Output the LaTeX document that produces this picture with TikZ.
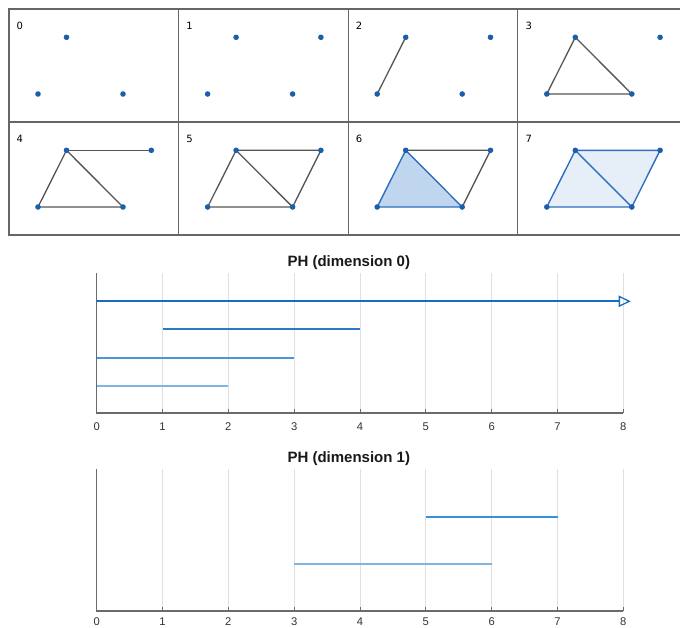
\documentclass[tikz,border=0pt]{standalone}
\usepackage{fontspec}
\setmainfont{Liberation Sans}
\newfontfamily\dvs{DejaVu Sans}
\definecolor{framec}{HTML}{666666}
\definecolor{edgec}{HTML}{555555}
\definecolor{dotc}{HTML}{1B5EAB}
\definecolor{bluee}{HTML}{2F6FBF}
\definecolor{fillA}{HTML}{C0D6EE}
\definecolor{fillB}{HTML}{E6EEF8}
\definecolor{gridc}{HTML}{E0E0E0}
\definecolor{axisc}{HTML}{6A6A6A}
\definecolor{barA}{HTML}{1A6CC0}
\definecolor{barB}{HTML}{2A7AC8}
\definecolor{barC}{HTML}{4F95D3}
\definecolor{barD}{HTML}{7DB6E3}
\definecolor{barE}{HTML}{3492DC}
\begin{document}
\begin{tikzpicture}[x=1pt,y=-1pt,
  cellframe/.style={draw=framec, line width=1.1pt},
  edgeg/.style={draw=edgec, line width=1.3pt, line join=round},
  edgeb/.style={draw=bluee, line width=1.4pt, line join=round},
  vdot/.style={circle, fill=dotc, inner sep=0pt, minimum size=5.6pt},
  cellno/.style={anchor=west, font=\dvs\fontsize{10}{10}\selectfont, text=black, inner sep=0pt},
  gridl/.style={draw=gridc, line width=0.8pt},
  axisl/.style={draw=axisc, line width=1.5pt},
  tickl/.style={anchor=base, font=\fontsize{11.2}{11.2}\selectfont, text=black!80, inner sep=0pt},
  titl/.style={font=\bfseries\fontsize{15}{15}\selectfont, text=black!90, inner sep=0pt},
]
\useasboundingbox (0,0) rectangle (680,627);
% ---------------- grid of filtration steps
\foreach \c in {0,...,3}{
  \foreach \r in {0,1}{
    \draw[cellframe] ({9+169.6*\c},{9+113*\r}) rectangle ({9+169.6*(\c+1)},{9+113*(\r+1)});
  }
}
\newcommand{\cellpts}[3]{% name prefix, x0, y0
  \coordinate (#1A) at ({#2+29},{#3+85});
  \coordinate (#1B) at ({#2+114},{#3+85});
  \coordinate (#1C) at ({#2+57.5},{#3+28.3});
  \coordinate (#1D) at ({#2+142.3},{#3+28.3});
}
\cellpts{p0}{9}{9}
\cellpts{p1}{178.6}{9}
\cellpts{p2}{348.2}{9}
\cellpts{p3}{517.8}{9}
\cellpts{p4}{9}{122}
\cellpts{p5}{178.6}{122}
\cellpts{p6}{348.2}{122}
\cellpts{p7}{517.8}{122}
% labels
\node[cellno] (l0) at (16.5,25.5) {0};
\node[cellno] (l1) at (186.1,25.5) {1};
\node[cellno] (l2) at (355.7,25.5) {2};
\node[cellno] (l3) at (525.3,25.5) {3};
\node[cellno] (l4) at (16.5,138.5) {4};
\node[cellno] (l5) at (186.1,138.5) {5};
\node[cellno] (l6) at (355.7,138.5) {6};
\node[cellno] (l7) at (525.3,138.5) {7};
% fills
\fill[fillA] (p6A) -- (p6C) -- (p6B) -- cycle;
\fill[fillB] (p7A) -- (p7C) -- (p7D) -- (p7B) -- cycle;
% edges
\draw[edgeg] (p2A) -- (p2C);
\draw[edgeg] (p3A) -- (p3C) -- (p3B) -- cycle;
\draw[edgeg] (p4A) -- (p4C) -- (p4B) -- cycle; \draw[edgeg] (p4C) -- (p4D);
\draw[edgeg] (p5A) -- (p5C) -- (p5B) -- cycle; \draw[edgeg] (p5C) -- (p5D) -- (p5B);
\draw[edgeg] (p6C) -- (p6D) -- (p6B);
\draw[edgeb] (p6A) -- (p6C) -- (p6B) -- cycle;
\draw[edgeb] (p7A) -- (p7C) -- (p7D) -- (p7B) -- cycle; \draw[edgeb] (p7C) -- (p7B);
% dots
\foreach \p in {p0A,p0B,p0C, p1A,p1B,p1C,p1D, p2A,p2B,p2C,p2D, p3A,p3B,p3C,p3D,
                p4A,p4B,p4C,p4D, p5A,p5B,p5C,p5D, p6A,p6B,p6C,p6D, p7A,p7B,p7C,p7D}
  \node[vdot] at (\p) {};
% ---------------- barcodes
\begin{scope}[shift={(96.7pt,0pt)}, x=65.83pt]
  % chart 1
  \node[titl] (t0) at (3.83,263) {PH (dimension 0)};
  \foreach \v in {1,...,8} \draw[gridl] (\v,273) -- (\v,413);
  \draw[draw=barA, line width=1.7pt] (0,301.3) -- (7.94,301.3);
  \draw[draw=barA, line width=1.3pt, line join=miter] (7.94,296.5) -- (8.09,301.3) -- (7.94,306.1) -- cycle;
  \draw[draw=barB, line width=1.7pt] (1,329.3) -- (4,329.3);
  \draw[draw=barC, line width=1.9pt] (0,357.7) -- (3,357.7);
  \draw[draw=barD, line width=2.3pt] (0,385.7) -- (2,385.7);
  \draw[axisl] (0,273) -- (0,413) -- (8,413);
  \foreach \v in {0,...,8}{
    \draw[draw=axisc, line width=1pt] (\v,413) -- (\v,409);
    \node[tickl] (a\v) at (\v,430.5) {\v};
  }
  % chart 2
  \node[titl] (t1) at (3.83,458.5) {PH (dimension 1)};
  \foreach \v in {1,...,8} \draw[gridl] (\v,469) -- (\v,611);
  \draw[draw=barE, line width=1.9pt] (5,516.7) -- (7,516.7);
  \draw[draw=barD, line width=2.3pt] (3,563.7) -- (6,563.7);
  \draw[axisl] (0,469) -- (0,611) -- (8,611);
  \foreach \v in {0,...,8}{
    \draw[draw=axisc, line width=1pt] (\v,611) -- (\v,607);
    \node[tickl] (b\v) at (\v,625.3) {\v};
  }
\end{scope}
\end{tikzpicture}
\end{document}
